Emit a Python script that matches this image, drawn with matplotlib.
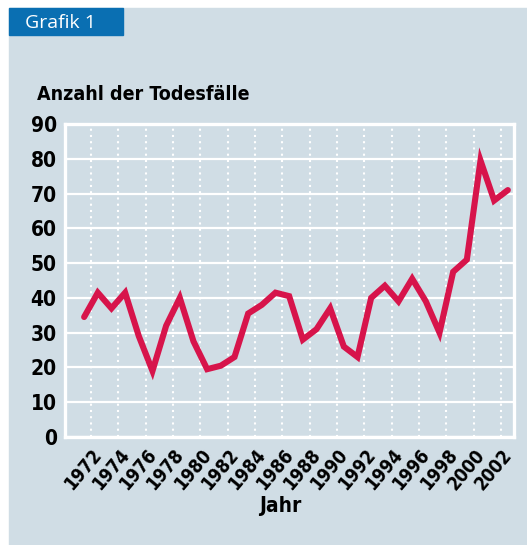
import matplotlib
matplotlib.use('Agg')
import matplotlib.pyplot as plt
from matplotlib.patches import Rectangle

# data
years = list(range(1971, 2003))
deaths = [34.5, 41.5, 37, 41.5, 29, 19, 32, 40, 27.5, 19.5,
          20.5, 23, 35.5, 38, 41.5, 40.5, 28, 31, 37, 26,
          23, 40, 43.5, 39, 45.5, 39, 30, 47.5, 51, 79.5,
          68, 71]
tick_years = list(range(1972, 2003, 2))
y_ticks = list(range(0, 91, 10))

bg = '#d0dde5'
red = '#d7144b'
blue = '#0a6fb2'
fnt = ['DejaVu Sans']

W, H = 527, 545
fig = plt.figure(figsize=(W/100, H/100), dpi=100)
fig.patch.set_facecolor('white')

# panel + title box
fig.patches.append(Rectangle((9/W, 0), 1, (H-8)/H, transform=fig.transFigure,
                             color=bg, zorder=-10))
fig.patches.append(Rectangle((9/W, (H-35)/H), 114/W, 27/H, transform=fig.transFigure,
                             color=blue, zorder=-5))
fig.text(25/W, (H-28.5)/H, 'Grafik 1', color='white', fontsize=14,
         family=['Open Sans', 'DejaVu Sans'], va='baseline')

ax = fig.add_axes([65/W, (H-437)/H, (514-65)/W, (437-124)/H])
ax.set_facecolor(bg)

ax.plot(years, deaths, color=red, lw=4.4, solid_joinstyle='miter',
        solid_capstyle='round', zorder=5)

ax.set_ylim(0, 90)
ax.set_xlim(1969.6, 2002.45)
ax.set_yticks(y_ticks)
ax.set_xticks([y - 0.5 for y in tick_years])
ax.set_xticklabels([str(y) for y in tick_years], rotation=50, ha='right',
                   va='top', rotation_mode='anchor')

for lab in ax.get_yticklabels():
    lab.set_fontsize(15)
for lab in ax.get_xticklabels():
    lab.set_fontsize(13.5)
for lab in ax.get_yticklabels() + ax.get_xticklabels():
    lab.set_family(fnt)
    lab.set_fontstretch('condensed')
    lab.set_fontweight('bold')

ax.tick_params(axis='both', length=0)
ax.tick_params(axis='y', pad=6)
ax.tick_params(axis='x', pad=6)

ax.grid(axis='y', color='white', lw=1.6, ls='-')
ax.grid(axis='x', color='white', lw=1.5, ls=(0, (1, 2.0)))
ax.set_axisbelow(True)
for s in ax.spines.values():
    s.set_color('white')
    s.set_linewidth(2.4)

fig.text(37/W, (H-100)/H, 'Anzahl der Todesfälle', fontsize=14, fontweight='bold',
         family=fnt, fontstretch='condensed', va='baseline')
fig.text(280/W, (H-512)/H, 'Jahr', fontsize=15, fontweight='bold',
         family=fnt, fontstretch='condensed', va='baseline', ha='center')

fig.savefig('out.png', dpi=100)
